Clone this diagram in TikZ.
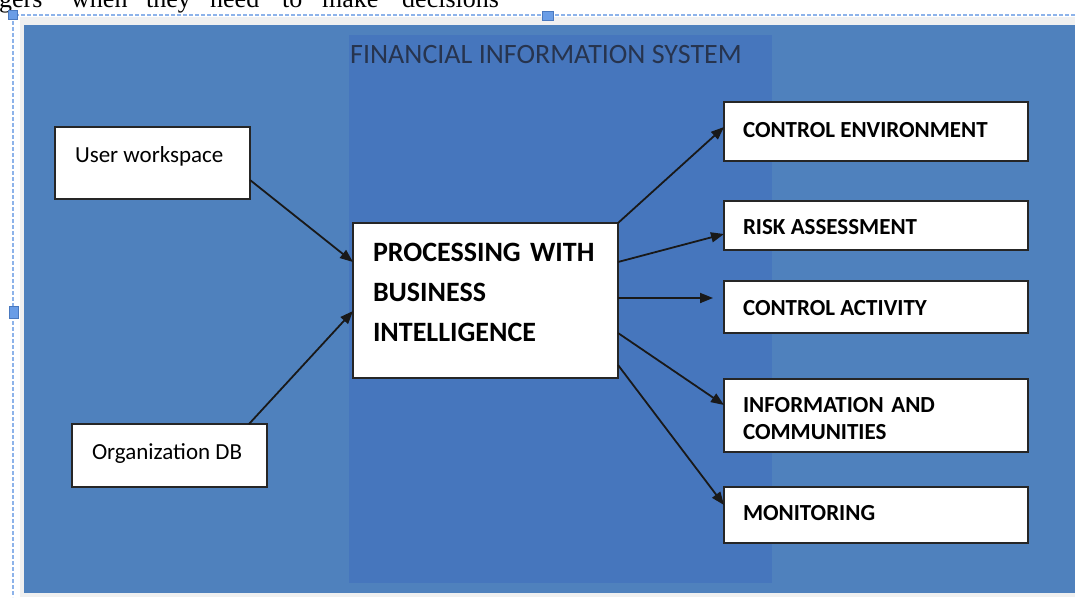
\documentclass[tikz,border=0pt]{standalone}
\usepackage{fontspec}
\setmainfont{Carlito}
\newfontfamily\bodyserif{Liberation Serif}
\usetikzlibrary{arrows.meta}
\definecolor{pageblue}{HTML}{4F81BD}
\definecolor{columnblue}{HTML}{4676BD}
\definecolor{framegray}{HTML}{F0F0F0}
\definecolor{selline}{HTML}{8DB3EA}
\definecolor{handlefill}{HTML}{6A9DE6}
\definecolor{handleedge}{HTML}{4A79BF}
\definecolor{titleink}{HTML}{27344E}
\begin{document}
\begin{tikzpicture}[x=1pt,y=-1pt,
  box/.style={draw=black!85,line width=1.8pt,fill=white,rectangle,
    inner sep=0pt,outer sep=0pt,anchor=north west},
  capslbl/.style={inner sep=0pt,outer sep=0pt,anchor=base west,
    font=\fontsize{23}{27}\selectfont\bfseries},
  mixlbl/.style={inner sep=0pt,outer sep=0pt,anchor=base west,
    font=\fontsize{23}{27}\selectfont},
  conn/.style={line width=1.8pt,draw=black!90,
    -{Triangle[length=13pt,width=10pt]}},
  handle/.style={draw=handleedge,fill=handlefill,line width=0.8pt,
    minimum size=9pt,inner sep=0pt},
  bodyword/.style={inner sep=0pt,anchor=base west,
    font=\bodyserif\fontsize{26}{30}\selectfont}]
\useasboundingbox (0,0) rectangle (1075,597);

% running text of the page above the figure
\node[bodyword] (w1) at (-1,7.5) {gers};
\node[bodyword] (w2) at (71,7.5) {when};
\node[bodyword] (w3) at (146,7.5) {they};
\node[bodyword] (w4) at (210,7.5) {need};
\node[bodyword] (w5) at (282,7.5) {to};
\node[bodyword] (w6) at (322,7.5) {make};
\node[bodyword] (w7) at (402,7.5) {decisions};

% grey frame, blue canvas and the central column
\fill[framegray] (20,17) rectangle (1075,597);
\fill[pageblue] (24,25) rectangle (1075,593);
\fill[columnblue] (349,35) rectangle (772,583);
\node[inner sep=0pt,anchor=base west,text=titleink,
  font=\fontsize{28}{32}\selectfont] (title) at (350,63)
  {FINANCIAL INFORMATION SYSTEM};

% selection outline with its handles
\draw[selline,line width=1.5pt,dash pattern=on 4pt off 2pt]
  (1075,15) -- (13,15) -- (13,597);
\node[handle] (h1) at (13,15) {};
\node[handle,minimum width=11pt] (h2) at (548,16) {};
\node[handle,minimum height=12pt] (h3) at (14,312) {};

% sources
\node[box,minimum width=195pt,minimum height=72pt] (uw) at (55,127) {};
\node[mixlbl] (uw-t) at (75,162.5) {User workspace};
\node[box,minimum width=195pt,minimum height=63pt] (org) at (72,424) {};
\node[mixlbl] (org-t) at (92,459.5) {Organization DB};

% processing
\node[box,minimum width=265pt,minimum height=155pt] (main) at (353,223) {};
\node[capslbl,text width=240pt,align=left,
  font=\fontsize{28}{40}\selectfont\bfseries] (main-t) at (373,261)
  {PROCESSING WITH\\BUSINESS\\INTELLIGENCE};

% components
\node[box,minimum width=304pt,minimum height=59pt] (ce) at (724,102) {};
\node[capslbl] (ce-t) at (743,137) {CONTROL ENVIRONMENT};
\node[box,minimum width=304pt,minimum height=49pt] (risk) at (724,201) {};
\node[capslbl] (risk-t) at (743,234.5) {RISK ASSESSMENT};
\node[box,minimum width=304pt,minimum height=52pt] (ca) at (724,281) {};
\node[capslbl] (ca-t) at (743,315) {CONTROL ACTIVITY};
\node[box,minimum width=304pt,minimum height=73pt] (info) at (724,379) {};
\node[capslbl,text width=270pt,align=left] (info-t) at (743,412)
  {INFORMATION AND\\COMMUNITIES};
\node[box,minimum width=304pt,minimum height=56pt] (mon) at (724,487) {};
\node[capslbl] (mon-t) at (743,520) {MONITORING};

% connectors
\draw[conn] ([yshift=19pt]uw.south east) -- ([yshift=-39pt]main.north west);
\draw[conn] ([xshift=-18pt]org.north east) -- ([yshift=-88pt]main.north west);
\draw[conn] (main.north east) -- ([yshift=-25pt]ce.north west);
\draw[conn] ([yshift=-39pt]main.north east) -- ([yshift=-33pt]risk.north west);
\draw[conn] ([yshift=-75pt]main.north east) -- ([xshift=-11pt,yshift=-17pt]ca.north west);
\draw[conn] ([yshift=-110pt]main.north east) -- ([yshift=-26pt]info.north west);
\draw[conn] ([yshift=-142pt]main.north east) -- ([yshift=-18pt]mon.north west);
\end{tikzpicture}
\end{document}
